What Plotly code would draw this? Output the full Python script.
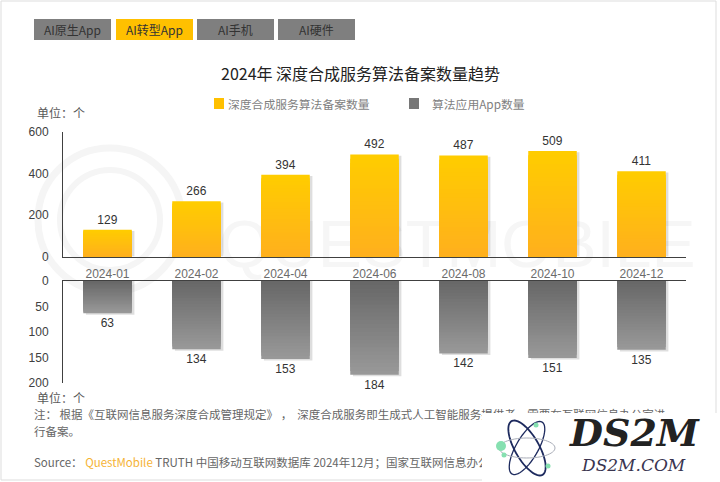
import numpy as np
import plotly.graph_objects as go

months = ["2024-01", "2024-02", "2024-04", "2024-06", "2024-08", "2024-10", "2024-12"]
filings = [129, 266, 394, 492, 487, 509, 411]
apps = [63, 134, 153, 184, 142, 151, 135]
top_ticks = [0, 200, 400, 600]
bottom_ticks = [0, 50, 100, 150, 200]
tabs = ["AI原生App", "AI转型App", "AI手机", "AI硬件"]

W, H = 720, 482
CJK = "Noto Sans CJK SC, Liberation Sans, sans-serif"
ARIAL = "Liberation Sans, Arial, sans-serif"
BAR_W = 0.545
STEPS = 24


def px(x):
    return x / W


def py(y):
    return 1 - y / H


def mix(c1, c2, t):
    c = [round(a + (b - a) * t) for a, b in zip(c1, c2)]
    return f"rgb({c[0]},{c[1]},{c[2]})"


def label(x, y, text, size=12, color="#595959", anchor="left", font=CJK):
    return dict(xref="paper", yref="paper", x=px(x), y=py(y), text=text, showarrow=False,
                xanchor=anchor, yanchor="middle", font=dict(family=font, size=size, color=color))


def rect(x0, y0, x1, y1, fill, line=None, layer="above"):
    return dict(type="rect", xref="paper", yref="paper", x0=px(x0), x1=px(x1), y0=py(y0), y1=py(y1),
                fillcolor=fill, line=dict(width=1 if line else 0, color=line or fill), layer=layer)


def ring(cx, cy, r, width, color="#f5f5f5"):
    return dict(type="circle", xref="paper", yref="paper", x0=px(cx - r), x1=px(cx + r),
                y0=py(cy + r), y1=py(cy - r), line=dict(width=width, color=color), layer="below")


def orbit(cx, cy, a, b, deg, color, width):
    t = np.linspace(0, 2 * np.pi, 60)
    rot = np.radians(deg)
    xs = cx + a * np.cos(t) * np.cos(rot) - b * np.sin(t) * np.sin(rot)
    ys = cy + a * np.cos(t) * np.sin(rot) + b * np.sin(t) * np.cos(rot)
    path = "M" + " L".join(f"{px(x):.4f},{py(y):.4f}" for x, y in zip(xs, ys)) + " Z"
    return dict(type="path", xref="paper", yref="paper", path=path, line=dict(color=color, width=width))


def page_text(x, y, text, size, color):
    # drawn as a trace so the logo's white box can cover it
    return go.Scatter(x=[px(x)], y=[py(y)], mode="text", text=[text], textposition="middle right",
                      xaxis="x", yaxis="y", textfont=dict(family=CJK, size=size, color=color),
                      hoverinfo="skip", showlegend=False)


fig = go.Figure()

# watermark text sits in the first subplot so the bars paint over it
fig.add_trace(go.Scatter(x=[0.635], y=[0.48], mode="text", text=["QUESTMOBILE"], xaxis="x", yaxis="y",
                         textfont=dict(family=ARIAL, size=66, color="#f6f6f6"), hoverinfo="skip", showlegend=False))
fig.add_trace(page_text(34, 416, "注： 根据《互联网信息服务深度合成管理规定》 ，  深度合成服务即生成式人工智能服务提供者，需要在互联网信息办公室进", 11.5, "#666666"))
fig.add_trace(page_text(34, 433, "行备案。", 11.5, "#666666"))
fig.add_trace(page_text(34, 464, "Source： <span style='color:#F5B335'>QuestMobile</span> TRUTH 中国移动互联网数据库 2024年12月；国家互联网信息办公室", 11.5, "#666666"))

# soft shadows
fig.add_trace(go.Bar(x=months, y=[v - 6 for v in filings], xaxis="x2", yaxis="y2", width=BAR_W,
                     offset=-BAR_W / 2 + 0.03, marker=dict(color="rgba(0,0,0,0.13)", line_width=0),
                     hoverinfo="skip", showlegend=False))
fig.add_trace(go.Bar(x=months, y=[v + 3 for v in apps], xaxis="x3", yaxis="y3", width=BAR_W,
                     offset=-BAR_W / 2 + 0.03, marker=dict(color="rgba(0,0,0,0.13)", line_width=0),
                     hoverinfo="skip", showlegend=False))

# plotly bars have no gradient fill, so stack shrinking copies
for i in range(STEPS):
    f = 1 - i / STEPS
    fig.add_trace(go.Bar(
        x=months, y=[v * f for v in filings], xaxis="x2", yaxis="y2", width=BAR_W,
        marker=dict(color=mix((255, 175, 30), (255, 204, 0), f), line_width=0),
        text=filings if i == 0 else None, textposition="outside" if i == 0 else "none",
        textangle=0, cliponaxis=False, textfont=dict(family=ARIAL, size=12, color="#333333"),
        hoverinfo="skip", showlegend=False))
    fig.add_trace(go.Bar(
        x=months, y=[v * f for v in apps], xaxis="x3", yaxis="y3", width=BAR_W,
        marker=dict(color=mix((102, 102, 102), (152, 152, 152), f), line_width=0),
        text=apps if i == 0 else None, textposition="outside" if i == 0 else "none",
        textangle=0, cliponaxis=False, textfont=dict(family=ARIAL, size=12, color="#333333"),
        hoverinfo="skip", showlegend=False))

shapes = [
    ring(110, 220, 72, 7), ring(110, 220, 50, 6),
    rect(1, 1, 716, 480, "rgba(0,0,0,0)", "#dddddd", layer="below"),
    rect(214, 98, 224, 109, "#FFC000"), rect(409, 98, 419, 109, "#777777"),
    rect(482, 413, 720, 482, "#ffffff"),
    orbit(527, 448, 31, 12, 60, "#1d2a5e", 1.8),
    orbit(527, 448, 30, 11, -60, "#1d2a5e", 1.3),
    orbit(527, 448, 28, 10, 0, "#a9adb8", 1),
]
for cx, cy, r in [(501, 446, 5), (504, 455, 2.5), (536, 425, 2.5), (548, 466, 2.5)]:
    shapes.append(dict(type="circle", xref="paper", yref="paper", x0=px(cx - r), x1=px(cx + r),
                       y0=py(cy + r), y1=py(cy - r), fillcolor="#86e0b0", line_width=0))

annotations = [
    label(360.5, 73, "2024年 深度合成服务算法备案数量趋势", 16, "#222222", "center"),
    label(226, 103, "深度合成服务算法备案数量", 11.8, "#7f7f7f"),
    label(430, 103, "算法应用App数量", 11.8, "#7f7f7f"),
    label(35, 112, "单位：个", 12, "#595959"),
    label(35, 397, "单位：个", 12, "#595959"),
    label(634, 432, "<b><i>DS2M</i></b>", 38, "#222222", "center", "DejaVu Serif"),
    label(633, 465, "<i>DS2M.COM</i>", 17, "#3a3550", "center", "DejaVu Serif"),
]
for (x0, x1), name in zip([(34, 111), (116, 193), (197, 274), (278, 355)], tabs):
    active = name == "AI转型App"
    shapes.append(rect(x0, 19, x1, 40, "#FFC000" if active else "#7f7f7f"))
    annotations.append(label((x0 + x1) / 2, 29.5, name, 12, "#333333", "center"))

fig.update_layout(
    width=W, height=H, margin=dict(l=0, r=0, t=0, b=0, autoexpand=False), paper_bgcolor="white",
    plot_bgcolor="rgba(0,0,0,0)", barmode="overlay", shapes=shapes, annotations=annotations, hovermode=False,
    xaxis=dict(visible=False, domain=[0, 1], range=[0, 1], automargin=False),
    yaxis=dict(visible=False, domain=[0, 1], range=[0, 1], automargin=False),
    xaxis2=dict(domain=[px(63), px(686)], anchor="y2", type="category", range=[-0.5, 6.5], showgrid=False,
                showline=True, linecolor="#404040", linewidth=1, ticks="", ticklen=0, automargin=False,
                tickfont=dict(family=ARIAL, size=12, color="#6b6b6b"), ticklabelstandoff=6),
    yaxis2=dict(domain=[py(256.5), py(132)], anchor="x2", range=[0, 600], tickvals=top_ticks, showgrid=False,
                zeroline=False, showline=True, linecolor="#404040", linewidth=1, automargin=False,
                tickfont=dict(family=ARIAL, size=12, color="#404040"), ticklabelstandoff=11),
    xaxis3=dict(domain=[px(63), px(686)], anchor="y3", side="top", type="category", range=[-0.5, 6.5],
                showgrid=False, showline=True, linecolor="#404040", linewidth=1, showticklabels=False,
                ticks="", automargin=False),
    yaxis3=dict(domain=[py(383), py(281)], anchor="x3", range=[200, 0], tickvals=bottom_ticks, showgrid=False,
                zeroline=False, showline=True, linecolor="#404040", linewidth=1, automargin=False,
                tickfont=dict(family=ARIAL, size=12, color="#404040"), ticklabelstandoff=11),
)

fig.write_html("out.html", config={"displayModeBar": False}, post_script="document.body.style.margin='0';")
